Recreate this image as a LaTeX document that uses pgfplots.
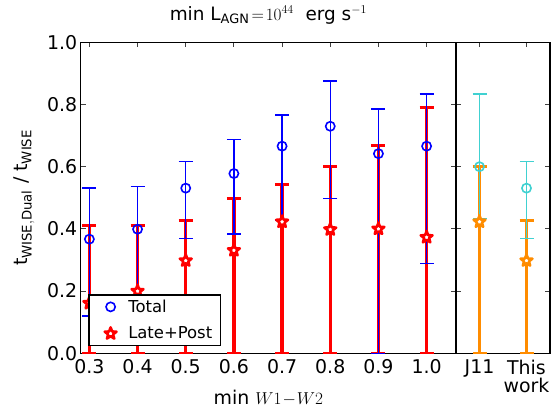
\documentclass[border=0pt]{standalone}
\usepackage{pgfplots}
\usepackage{pgfplotstable}
\pgfplotsset{compat=1.18}
\usepackage{fontspec}
\setmainfont{DejaVu Sans}

\definecolor{mcyan}{rgb}{0.25,0.82,0.82}
\definecolor{morange}{rgb}{1,0.55,0}

% open five-pointed star
\pgfdeclareplotmark{ostar}{%
  \pgfpathmoveto{\pgfpointpolar{90}{\pgfplotmarksize}}%
  \pgfpathlineto{\pgfpointpolar{126}{0.42\pgfplotmarksize}}%
  \pgfpathlineto{\pgfpointpolar{162}{\pgfplotmarksize}}%
  \pgfpathlineto{\pgfpointpolar{198}{0.42\pgfplotmarksize}}%
  \pgfpathlineto{\pgfpointpolar{234}{\pgfplotmarksize}}%
  \pgfpathlineto{\pgfpointpolar{270}{0.42\pgfplotmarksize}}%
  \pgfpathlineto{\pgfpointpolar{306}{\pgfplotmarksize}}%
  \pgfpathlineto{\pgfpointpolar{342}{0.42\pgfplotmarksize}}%
  \pgfpathlineto{\pgfpointpolar{18}{\pgfplotmarksize}}%
  \pgfpathlineto{\pgfpointpolar{54}{0.42\pgfplotmarksize}}%
  \pgfpathclose
  \pgfusepathqfillstroke}

% x  y  lower  upper
\pgfplotstableread{
x   y     lo    hi
0.3 0.367 0.120 0.531
0.4 0.399 0.130 0.536
0.5 0.531 0.369 0.616
0.6 0.578 0.383 0.687
0.7 0.666 0.429 0.766
0.8 0.730 0.498 0.875
0.9 0.642 0.000 0.785
1.0 0.666 0.289 0.834
}\total

\pgfplotstableread{
x   y     lo  hi
0.3 0.161 0.0 0.410
0.4 0.200 0.0 0.410
0.5 0.298 0.0 0.428
0.6 0.331 0.0 0.499
0.7 0.423 0.0 0.544
0.8 0.398 0.0 0.600
0.9 0.400 0.0 0.667
1.0 0.373 0.0 0.791
}\latepost

\pgfplotstableread{
x y     lo    hi
0 0.600 0.434 0.834
1 0.531 0.369 0.616
}\totalobs

\pgfplotstableread{
x y     lo  hi
0 0.423 0.0 0.600
1 0.298 0.0 0.428
}\lateobs

\pgfplotsset{
  panel/.style={
    scale only axis, height=311bp,
    ymin=0, ymax=1, ytick={0,0.2,0.4,0.6,0.8,1.0},
    axis line style={line width=1.3bp},
    tick align=inside, tick pos=both,
    major tick length=5bp,
    tick style={line width=1bp, black!75},
    ticklabel style={font=\fontsize{19}{18.3}\selectfont},
    xticklabel style={yshift=-3bp},
    /pgf/number format/assume math mode=true,
    /pgf/number format/fixed, /pgf/number format/fixed zerofill,
    /pgf/number format/precision=1,
  },
}

\begin{document}
\begin{tikzpicture}
\begin{axis}[panel, name=left,
    width=375.3bp,
    xmin=0.282, xmax=1.061,
    xtick={0.3,0.4,0.5,0.6,0.7,0.8,0.9,1.0},
    xticklabels={0.3,0.4,0.5,0.6,0.7,0.8,0.9,1.0},
    xlabel={min $W1\!-\!W2$},
    xlabel style={font=\fontsize{19}{20}\selectfont, at={(axis description cs:0.5,0)}, anchor=base, yshift=-51.7bp},
    ylabel={t$_{\mathrm{WISE,Dual}}$ / t$_{\mathrm{WISE}}$},
    ylabel style={font=\fontsize{19}{20}\selectfont, at={(axis description cs:-0.151,0.5)}, anchor=center},
    title={min L$_{\mathrm{AGN}}\!=\!10^{44}$\ \ erg s$^{-1}$},
    title style={font=\fontsize{18.5}{20}\selectfont, at={(axis description cs:0.5,1)}, anchor=base, yshift=16.3bp},
    reverse legend,
    legend style={at={(0.0203,0.0235)}, anchor=south west, draw=black,
      line width=1.3bp, font=\fontsize{16.5}{19}\selectfont,
      inner xsep=6bp, inner ysep=3bp, row sep=9bp,
      nodes={inner sep=2bp}},
    legend cell align=left,
    legend image code/.code={\path (0bp,0bp) (30bp,0bp); \draw[#1] plot coordinates {(15bp,0bp)};},
]
\addplot[red, only marks, mark=ostar, mark size=6.2bp,
  mark options={fill=white, line width=2.6bp, line join=round},
  error bars/.cd, y dir=both, y explicit,
  error bar style={line width=3.2bp, red},
  error mark options={rotate=90, mark size=7bp, line width=3.2bp, red}]
  table[x=x, y=y, y error plus expr=\thisrow{hi}-\thisrow{y},
        y error minus expr=\thisrow{y}-\thisrow{lo}] {\latepost};
\addlegendentry{Late+Post}
\addplot[blue, only marks, mark=o, mark size=4.6bp,
  mark options={fill=white, line width=1.6bp},
  error bars/.cd, y dir=both, y explicit,
  error bar style={line width=1.4bp, blue},
  error mark options={rotate=90, mark size=7bp, line width=1.4bp, blue}]
  table[x=x, y=y, y error plus expr=\thisrow{hi}-\thisrow{y},
        y error minus expr=\thisrow{y}-\thisrow{lo}] {\total};
\addlegendentry{Total}
\end{axis}

\begin{axis}[panel, at={(left.south east)}, anchor=south west,
    width=94bp,
    xmin=-0.5, xmax=1.5,
    xtick={0,1}, xticklabels={J11, This\\work},
    xticklabel style={align=center},
    yticklabels={},
]
\addplot[morange, only marks, mark=ostar, mark size=6.2bp,
  mark options={fill=white, line width=2.6bp, line join=round},
  error bars/.cd, y dir=both, y explicit,
  error bar style={line width=3.2bp, morange},
  error mark options={rotate=90, mark size=7bp, line width=3.2bp, morange}]
  table[x=x, y=y, y error plus expr=\thisrow{hi}-\thisrow{y},
        y error minus expr=\thisrow{y}-\thisrow{lo}] {\lateobs};
\addplot[mcyan, only marks, mark=o, mark size=4.6bp,
  mark options={fill=white, line width=1.6bp},
  error bars/.cd, y dir=both, y explicit,
  error bar style={line width=1.4bp, mcyan},
  error mark options={rotate=90, mark size=7bp, line width=1.4bp, mcyan}]
  table[x=x, y=y, y error plus expr=\thisrow{hi}-\thisrow{y},
        y error minus expr=\thisrow{y}-\thisrow{lo}] {\totalobs};
\end{axis}

\path[use as bounding box] ([shift={(-80.7bp,-55.7bp)}]left.south west)
  rectangle ([shift={(478.3bp,42.3bp)}]left.north west);
\end{tikzpicture}
\end{document}
